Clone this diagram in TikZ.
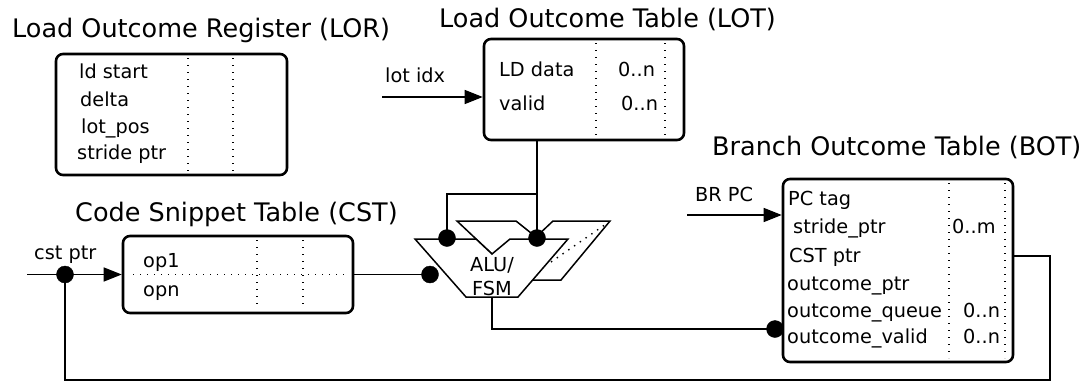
\documentclass[tikz,border=0pt]{standalone}
\usepackage{fontspec}
\setmainfont{DejaVu Sans}
\usetikzlibrary{arrows.meta}

\tikzset{
  tbl/.style={draw, line width=2.6pt, rounded corners=7pt, inner sep=0pt},
  ttl/.style={font=\fontsize{25.5}{30}\selectfont, inner sep=0pt, anchor=base west},
  fld/.style={font=\fontsize{19.3}{24}\selectfont, inner sep=0pt, anchor=base west},
  sep/.style={line width=1.4pt, dash pattern=on 1.4pt off 5.6pt},
  wire/.style={line width=1.5pt},
  inp/.style={wire, -{Triangle[length=18pt,width=14pt]}},
  alu/.style={wire, fill=white, line join=miter},
}

\begin{document}
\begin{tikzpicture}[x=1pt, y=-1pt]
  \path[fill=white] (0,0) rectangle (1083,383);

  % titles
  \node[ttl] (lorttl) at (12,37) {Load Outcome Register (LOR)};
  \node[ttl] (lotttl) at (439,27) {Load Outcome Table (LOT)};
  \node[ttl] (cstttl) at (75,221) {Code Snippet Table (CST)};
  \node[ttl] (botttl) at (712,155) {Branch Outcome Table (BOT)};

  % tables
  \node[tbl, minimum width=231pt, minimum height=121pt] (lor) at (171.5,114.5) {};
  \node[tbl, minimum width=200pt, minimum height=101pt] (lot) at (584,89.5) {};
  \node[tbl, minimum width=230pt, minimum height=77pt] (cst) at (238,274.5) {};
  \node[tbl, minimum width=230pt, minimum height=183pt] (bot) at (898,270.5) {};

  \draw[sep] (188,58) -- (188,171);
  \draw[sep] (233,58) -- (233,171);
  \draw[sep] (596,43) -- (596,136);
  \draw[sep] (665,43) -- (665,136);
  \draw[sep] (257,240) -- (257,309);
  \draw[sep] (303,240) -- (303,309);
  \draw[sep] (133,274.5) -- (347,274.5);
  \draw[sep] (949,183) -- (949,358);
  \draw[sep] (1005,183) -- (1005,358);

  % fields
  \node[fld] (ldstart) at (79,78) {ld start};
  \node[fld] (delta) at (80,106) {delta};
  \node[fld] (lotpos) at (81,133) {lot\_pos};
  \node[fld] (strptr) at (77,159) {stride ptr};

  \node[fld] (lddata) at (499,76) {LD data};
  \node[fld] (valid) at (499,110) {valid};
  \node[fld] (ldn) at (618,76) {0..n};
  \node[fld] (validn) at (621,110) {0..n};

  \node[fld] (opa) at (143,267) {op1};
  \node[fld] (opb) at (143,296) {opn};

  \node[fld] (pctag) at (788,205) {PC tag};
  \node[fld] (bstride) at (793,233) {stride\_ptr};
  \node[fld] (bcst) at (789,262) {CST ptr};
  \node[fld] (optr) at (787,290) {outcome\_ptr};
  \node[fld] (oqueue) at (787,317) {outcome\_queue};
  \node[fld] (ovalid) at (787,343) {outcome\_valid};
  \node[fld] (stridem) at (952,233) {0..m};
  \node[fld] (queuen) at (963,317) {0..n};
  \node[fld] (oval) at (963,343) {0..n};

  % inputs
  \node[fld] (lotidx) at (385,82) {lot idx};
  \node[fld] (cstptr) at (34,259) {cst ptr};
  \node[fld] (brpc) at (695,201) {BR PC};

  % ALU/FSM stack
  \filldraw[alu] (457,221) -- (516,221) -- (536,237) -- (553,221) -- (610,221)
    -- (561,280) -- (530,280) -- (492,254) -- cycle;
  \draw[sep] (551,262) -- (606,224);
  \filldraw[alu] (415,239) -- (476,239) -- (492,254) -- (510,239) -- (568,239)
    -- (518,297) -- (466,297) -- cycle;
  \node[font=\fontsize{19.3}{24}\selectfont, align=center, inner sep=0pt] (aluname) at (492,277) {ALU/\\FSM};

  \coordinate (aluA) at (447,238);
  \coordinate (aluB) at (537,238);
  \coordinate (aluL) at (430,274.5);
  \coordinate (aluO) at (492,297);
  \coordinate (fork) at (537,194);
  \coordinate (botin) at (775,329);
  \coordinate (cstdot) at (65,274.5);
  \coordinate (ret) at (1050,380);
  \coordinate (botout) at (1013,256);
  \coordinate (lotin) at (382,97);
  \coordinate (cstin) at (27,274.5);
  \coordinate (brin) at (687,215);

  % connections
  \draw[wire] (lot.south -| aluB) -- (aluB);
  \draw[wire] (fork) -| (aluA);
  \draw[wire] (cst.east) -- (aluL);
  \draw[wire] (aluO) |- (botin);
  \draw[wire] (botout) -| (ret) -| (cstdot);
  \draw[inp] (lotin) -- (lot.west |- lotin);
  \draw[inp] (cstin) -- (cst.west);
  \draw[inp] (brin) -- (bot.west |- brin);

  \filldraw (aluA) circle (8.5pt);
  \filldraw (aluB) circle (8.5pt);
  \filldraw (aluL) circle (8.5pt);
  \filldraw (botin) circle (8.5pt);
  \filldraw (cstdot) circle (8.5pt);
\end{tikzpicture}
\end{document}
